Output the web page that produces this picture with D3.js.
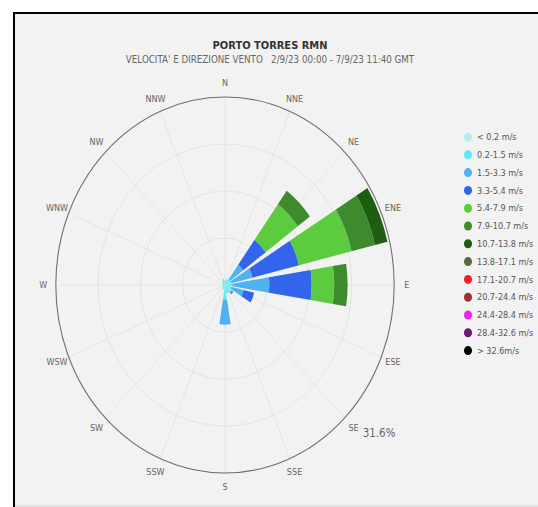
<!DOCTYPE html>
<html>
<head>
<meta charset="utf-8">
<script src="https://cdn.jsdelivr.net/npm/d3@7"></script>
<style>
  html, body { margin: 0; padding: 0; background: #ffffff; }
  svg { display: block; }
  text { font-family: "DejaVu Sans", Verdana, sans-serif; }
</style>
</head>
<body>
<svg id="chart" width="538" height="507"></svg>
<script>
// Compass sectors, clockwise from north
const directions = ['N','NNE','NE','ENE','E','ESE','SE','SSE','S','SSW','SW','WSW','W','WNW','NW','NNW'];

// Speed classes (legend labels) and their colours
const speedClasses = ['< 0.2 m/s','0.2-1.5 m/s','1.5-3.3 m/s','3.3-5.4 m/s','5.4-7.9 m/s','7.9-10.7 m/s',
  '10.7-13.8 m/s','13.8-17.1 m/s','17.1-20.7 m/s','20.7-24.4 m/s','24.4-28.4 m/s','28.4-32.6 m/s','> 32.6m/s'];
const classColors = ['#b5ecf2','#5cecf2','#4fb2f2','#3264ec','#5ccb3d','#3d8b2c',
  '#1f5e12','#5a6a3c','#ee2020','#a03030','#ee22ee','#6a1a7a','#000000'];

// Frequency (% of observations) per direction, one array per speed class
const freqLt02   = [0,0,0,0,0,0,0,0,0,0,0,0,0,0,0,0];
const freq02_15  = [0.8,1.0,1.1,1.2,1.4,1.2,1.4,1.2,2.5,0.8,0.6,0.5,0.5,0.5,0.6,1.1];
const freq15_33  = [0,0,3.1,4.1,6.9,2.4,0.3,0.2,4.2,0,0,0,0,0,0,0];
const freq33_54  = [0,0,5.2,8.9,7.9,2.0,0.2,0,0,0,0,0,0,0,0,0];
const freq54_79  = [0,0,7.4,10.1,4.2,0,0,0,0,0,0,0,0,0,0,0];
const freq79_107 = [0,0,2.8,4.5,2.5,0,0,0,0,0,0,0,0,0,0,0];
const freq107_138= [0,0,0,2.4,0,0,0,0,0,0,0,0,0,0,0,0];
const freq138_171= [0,0,0,0,0,0,0,0,0,0,0,0,0,0,0,0];
const freq171_207= [0,0,0,0,0,0,0,0,0,0,0,0,0,0,0,0];
const freq207_244= [0,0,0,0,0,0,0,0,0,0,0,0,0,0,0,0];
const freq244_284= [0,0,0,0,0,0,0,0,0,0,0,0,0,0,0,0];
const freq284_326= [0,0,0,0,0,0,0,0,0,0,0,0,0,0,0,0];
const freqGt326  = [0,0,0,0,0,0,0,0,0,0,0,0,0,0,0,0];

const series = [freqLt02,freq02_15,freq15_33,freq33_54,freq54_79,freq79_107,freq107_138,
  freq138_171,freq171_207,freq207_244,freq244_284,freq284_326,freqGt326];

const axisMax = 31.6;
const axisLabel = '31.6%';
const title = 'PORTO TORRES RMN';
const subtitle = "VELOCITA' E DIREZIONE VENTO   2/9/23 00:00 - 7/9/23 11:40 GMT";

const svg = d3.select('#chart');

// window frame
svg.append('rect').attr('x', 13).attr('y', 12).attr('width', 530).attr('height', 500)
  .attr('fill', '#f2f2f2');
svg.append('line').attr('x1', 13).attr('x2', 538).attr('y1', 13).attr('y2', 13)
  .attr('stroke', '#000').attr('stroke-width', 2);
svg.append('line').attr('x1', 14).attr('x2', 14).attr('y1', 12).attr('y2', 507)
  .attr('stroke', '#000').attr('stroke-width', 2);
svg.append('line').attr('x1', 15).attr('x2', 538).attr('y1', 506).attr('y2', 506)
  .attr('stroke', '#d0d0d0').attr('stroke-width', 1);

// chart drawn in a horizontally condensed space
const sx = 0.9;
const g = svg.append('g').attr('transform', `scale(${sx},1)`);

const cx = 250, cy = 285, R = 188;
const rScale = d3.scaleLinear().domain([0, axisMax]).range([0, R]);
const step = 2 * Math.PI / directions.length;
const half = (9 / 180) * Math.PI;
const angleOf = d => directions.indexOf(d) * step;

const plot = g.append('g').attr('transform', `translate(${cx},${cy})`);

// grid rings
const ringVals = [axisMax * 0.25, axisMax * 0.5, axisMax * 0.75];
plot.selectAll('circle.ring').data(ringVals).join('circle')
  .attr('class', 'ring').attr('r', d => rScale(d))
  .attr('fill', 'none').attr('stroke', '#e2e2e2').attr('stroke-width', 1);

// spokes
plot.selectAll('line.spoke').data(directions).join('line')
  .attr('class', 'spoke')
  .attr('x1', 0).attr('y1', 0)
  .attr('x2', d => Math.sin(angleOf(d)) * R)
  .attr('y2', d => -Math.cos(angleOf(d)) * R)
  .attr('stroke', '#e4e4e4').attr('stroke-width', 1);

// stacked wedges
const stacked = d3.stack().keys(d3.range(series.length))
  .value((row, k) => row[k])(directions.map((d, i) => series.map(s => s[i])));

const arc = d3.arc();
stacked.forEach((layer, k) => {
  plot.append('g').selectAll('path').data(layer.map((v, i) => ({ v, i })).filter(o => o.v[1] > o.v[0]))
    .join('path')
    .attr('d', o => arc({
      innerRadius: rScale(o.v[0]), outerRadius: rScale(o.v[1]),
      startAngle: angleOf(directions[o.i]) - half, endAngle: angleOf(directions[o.i]) + half
    }))
    .attr('fill', classColors[k]);
});

// outer circle
plot.append('circle').attr('r', R).attr('fill', 'none').attr('stroke', '#6e6e6e').attr('stroke-width', 1.2);

// direction labels
const labelR = 202;
plot.selectAll('text.dir').data(directions).join('text')
  .attr('class', 'dir')
  .attr('x', d => Math.sin(angleOf(d)) * labelR)
  .attr('y', d => -Math.cos(angleOf(d)) * labelR)
  .attr('dy', '0.35em')
  .attr('text-anchor', 'middle')
  .attr('font-size', 9).attr('fill', '#666')
  .text(d => d);

// axis maximum label
const seA = angleOf('SE');
plot.append('text')
  .attr('x', Math.sin(seA) * R + 20)
  .attr('y', -Math.cos(seA) * R + 19)
  .attr('font-size', 11.5).attr('fill', '#666')
  .text(axisLabel);

// titles
g.append('text').attr('x', 300).attr('y', 49).attr('text-anchor', 'middle')
  .attr('font-size', 11).attr('font-weight', 'bold').attr('fill', '#333').text(title);
g.append('text').attr('x', 300).attr('y', 63).attr('text-anchor', 'middle')
  .attr('font-size', 9.7).attr('fill', '#666').style('white-space', 'pre').text(subtitle);

// legend
const legend = g.append('g');
const lx = 520, ly = 137, lstep = 17.8;
legend.selectAll('circle').data(speedClasses).join('circle')
  .attr('cx', lx).attr('cy', (d, i) => ly + i * lstep).attr('r', 4.5)
  .attr('fill', (d, i) => classColors[i]);
legend.selectAll('text').data(speedClasses).join('text')
  .attr('x', lx + 10).attr('y', (d, i) => ly + i * lstep).attr('dy', '0.35em')
  .attr('font-size', 9).attr('fill', '#555').text(d => d);
</script>
</body>
</html>
